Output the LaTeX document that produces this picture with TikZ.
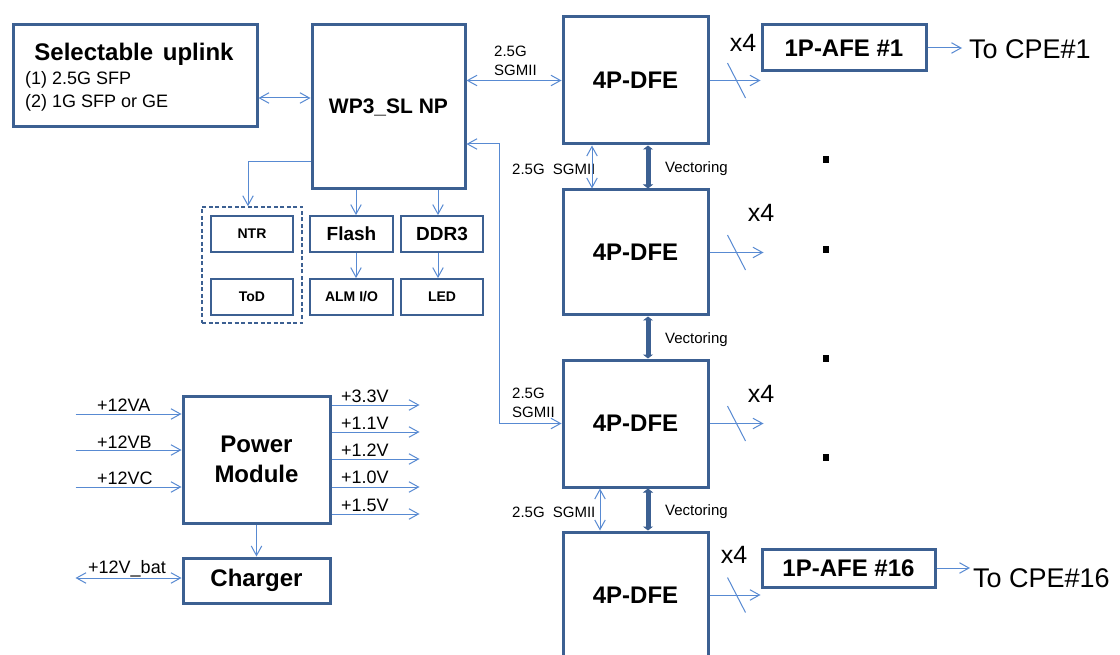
\documentclass[tikz,border=0pt]{standalone}
\usepackage{fontspec}
\setmainfont{Liberation Sans}
\usetikzlibrary{arrows.meta}
\definecolor{boxc}{RGB}{60,96,146}
\definecolor{linec}{RGB}{88,138,210}
\newcommand\fsz[2]{\fontsize{#1}{#2}\selectfont}
\begin{document}
\begin{tikzpicture}[x=1pt,y=-1pt,
  bbox/.style={draw=boxc,line width=3pt,inner sep=0pt,align=center},
  sbox/.style={draw=boxc,line width=1.8pt,inner sep=0pt,font=\fsz{14}{16}\bfseries},
  conn/.style={draw=linec,line width=1pt,-{Straight Barb[length=9.5pt,width=10.5pt]}},
  biconn/.style={draw=linec,line width=1pt,{Straight Barb[length=9.5pt,width=10.5pt]}-{Straight Barb[length=9.5pt,width=10.5pt]}},
  plain/.style={draw=linec,line width=1pt},
  vect/.style={draw=boxc,line width=5pt,{Triangle[length=4pt,width=10pt]}-{Triangle[length=4pt,width=10pt]}},
  lbl/.style={inner sep=0pt,anchor=west},
  small/.style={lbl,font=\fsz{15}{19},align=left},
  volt/.style={lbl,font=\fsz{18}{20}},
  dot/.style={fill=black,minimum width=6pt,minimum height=7pt,inner sep=0pt},
]
\useasboundingbox (0,0) rectangle (1120,655);
\clip (0,0) rectangle (1120,655);
\fill[white] (0,0) rectangle (1120,655);

% uplink
\node[bbox,minimum width=244pt,minimum height=102pt] (up) at (135,76) {};
\node[inner sep=0pt,font=\fsz{24}{28}\bfseries] (upt) at (134,54) {Selectable\hspace{3pt} uplink};
\node[volt] (up1) at (25,80) {(1) 2.5G SFP};
\node[volt] (up2) at (25,103) {(2) 1G SFP or GE};

% NP
\node[bbox,minimum width=153pt,minimum height=164pt,font=\fsz{21}{25}\bfseries] (wp) at (388.5,107) {WP3\_SL NP};

% peripheral group
\node[draw=boxc,dash pattern=on 4pt off 2.5pt,line width=1.5pt,minimum width=100pt,minimum height=116pt,inner sep=0pt] (grp) at (252,265) {};
\node[sbox,minimum width=82pt,minimum height=36pt] (ntr) at (252,234) {NTR};
\node[sbox,minimum width=82pt,minimum height=36pt] (tod) at (252,297) {ToD};
\node[sbox,minimum width=83pt,minimum height=36pt,font=\fsz{19}{21}\bfseries] (flash) at (351.5,234) {Flash};
\node[sbox,minimum width=82pt,minimum height=36pt,font=\fsz{19}{21}\bfseries] (ddr) at (442,234) {DDR3};
\node[sbox,minimum width=83pt,minimum height=36pt] (alm) at (351.5,297) {ALM I/O};
\node[sbox,minimum width=82pt,minimum height=36pt] (led) at (442,297) {LED};

% DFEs
\node[bbox,minimum width=145pt,minimum height=127pt,font=\fsz{24}{28}\bfseries] (dfe1) at (635.5,80.5) {4P-DFE};
\node[bbox,minimum width=145pt,minimum height=125pt,font=\fsz{24}{28}\bfseries] (dfe2) at (635.5,252.5) {4P-DFE};
\node[bbox,minimum width=145pt,minimum height=127pt,font=\fsz{24}{28}\bfseries] (dfe3) at (635.5,423.5) {4P-DFE};
\node[bbox,minimum width=145pt,minimum height=126pt,font=\fsz{24}{28}\bfseries] (dfe4) at (635.5,595) {4P-DFE};

% AFEs
\node[bbox,minimum width=164pt,minimum height=46pt,font=\fsz{24}{28}\bfseries] (afe1) at (844,48) {1P-AFE \#1};
\node[bbox,minimum width=173pt,minimum height=38pt,font=\fsz{24}{28}\bfseries] (afe16) at (848.5,568) {1P-AFE \#16};
\node[lbl,inner xsep=7pt,font=\fsz{27}{30}] (cpe1) at (962,49) {To CPE\#1};
\node[lbl,inner xsep=3pt,font=\fsz{27}{30}] (cpe16) at (970,578) {To CPE\#16};

% x4 labels
\node[inner sep=0pt,font=\fsz{25}{28}] (x1) at (743,43) {x4};
\node[inner sep=0pt,font=\fsz{25}{28}] (x2) at (761,213) {x4};
\node[inner sep=0pt,font=\fsz{25}{28}] (x3) at (761,394) {x4};
\node[inner sep=0pt,font=\fsz{25}{28}] (x4) at (734,555) {x4};

% small labels
\node[small] (l1) at (494,60.5) {2.5G\\SGMII};
\node[small] (l2) at (512,169) {2.5G\hspace{4pt} SGMII};
\node[small] (l3) at (512,403) {2.5G\\SGMII};
\node[small] (l4) at (512,512) {2.5G\hspace{4pt} SGMII};
\node[small] (v1l) at (665,169) {Vectoring};
\node[small] (v2l) at (665,340) {Vectoring};
\node[small] (v3l) at (665,512) {Vectoring};

% dots
\node[dot] (d1) at (826,160) {};
\node[dot] (d2) at (826,250) {};
\node[dot] (d3) at (826,358) {};
\node[dot] (d4) at (826,457) {};

% power
\node[bbox,minimum width=147pt,minimum height=127pt,font=\fsz{24}{30}\bfseries] (pm) at (256.5,459.5) {Power\\Module};
\node[bbox,minimum width=147pt,minimum height=45pt,font=\fsz{24}{28}\bfseries] (ch) at (256.5,580.5) {Charger};

\node[volt] (la) at (97,405) {+12VA};
\node[volt] (lb) at (97,442) {+12VB};
\node[volt] (lc) at (97,478) {+12VC};
\node[volt] (o1l) at (341,396) {+3.3V};
\node[volt] (o2l) at (341,423) {+1.1V};
\node[volt] (o3l) at (341,450) {+1.2V};
\node[volt] (o4l) at (341,477) {+1.0V};
\node[volt] (o5l) at (341,505) {+1.5V};
\node[volt] (lbat) at (88,569) {+12V\_bat};

% ---------- connectors ----------
\coordinate (ua) at ([yshift=-22pt]up.east);
\draw[biconn] (ua) -- (ua -| wp.west);
\draw[biconn] (wp.east |- dfe1.west) -- (dfe1.west);

\coordinate (wn) at ([yshift=-55pt]wp.west);
\draw[conn] (wn) -| ([xshift=-4pt]grp.north);
\coordinate (fa) at ([xshift=4.5pt]flash.north);
\draw[conn] (fa |- wp.south) -- (fa);
\draw[conn] (flash.south -| fa) -- (alm.north -| fa);
\coordinate (da) at ([xshift=-4pt]ddr.north);
\draw[conn] (da |- wp.south) -- (da);
\draw[conn] (ddr.south -| da) -- (led.north -| da);

% return path
\coordinate (wr) at ([yshift=-37pt]wp.east);
\coordinate (rc) at ([xshift=-62pt]dfe3.west);
\draw[biconn] (wr) -| (rc) -- (dfe3.west);

% vectoring + sgmii
\coordinate (vv1) at ([xshift=12.5pt]dfe1.south);
\coordinate (vv2) at ([xshift=12.5pt]dfe2.south);
\coordinate (vv3) at ([xshift=12.5pt]dfe3.south);
\draw[vect] (vv1) -- (vv1 |- dfe2.north);
\draw[vect] (vv2) -- (vv2 |- dfe3.north);
\draw[vect] (vv3) -- (vv3 |- dfe4.north);
\coordinate (s1) at ([xshift=-43.5pt]dfe1.south);
\coordinate (s2) at ([xshift=-35.5pt]dfe3.south);
\draw[biconn] (s1) -- (s1 |- dfe2.north);
\draw[biconn] (s2) -- (s2 |- dfe4.north);

% outputs
\coordinate (oe1) at (afe1.west |- dfe1.east);
\coordinate (oe2) at ([xshift=54pt]dfe2.east);
\coordinate (oe3) at ([xshift=54pt]dfe3.east);
\coordinate (oe4) at (afe16.west |- dfe4.east);
\draw[conn] (dfe1.east) -- (oe1);
\draw[conn] (dfe2.east) -- (oe2);
\draw[conn] (dfe3.east) -- (oe3);
\draw[conn] (dfe4.east) -- (oe4);
\foreach \d in {dfe1,dfe2,dfe3,dfe4}{
  \draw[plain] ([shift={(18,-17.5)}]\d.east) -- ([shift={(36,17.5)}]\d.east);
}
\draw[conn] (afe1.east) -- (cpe1.west |- afe1.east);
\draw[conn] (afe16.east) -- (cpe16.west |- afe16.east);

% power connectors
\coordinate (ia) at ([xshift=-106pt,yshift=45.5pt]pm.west);
\coordinate (ib) at ([xshift=-106pt,yshift=9.5pt]pm.west);
\coordinate (ic) at ([xshift=-106pt,yshift=-27.5pt]pm.west);
\draw[conn] (ia) -- (ia -| pm.west);
\draw[conn] (ib) -- (ib -| pm.west);
\draw[conn] (ic) -- (ic -| pm.west);
\foreach \s/\n in {54.5/a,27.5/b,0.5/c,-27.5/d,-54.5/e}{
  \coordinate (po\n) at ([yshift=\s pt]pm.east);
  \draw[conn] (po\n) -- ([xshift=88pt]po\n);
}
\draw[conn] (pm.south) -- (ch.north);
\coordinate (bt) at ([xshift=-106pt,yshift=2.5pt]ch.west);
\draw[biconn] (bt) -- (bt -| ch.west);
\end{tikzpicture}
\end{document}
